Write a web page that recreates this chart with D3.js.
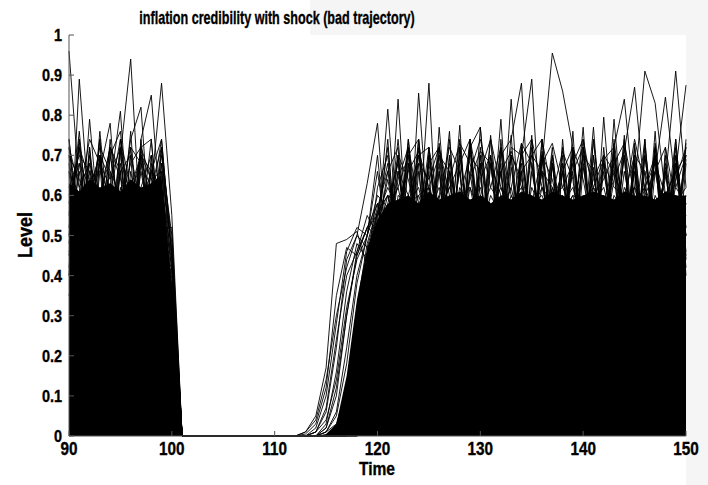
<!DOCTYPE html>
<html>
<head>
<meta charset="utf-8">
<script src="https://cdn.jsdelivr.net/npm/d3@7"></script>
<style>
  html, body { margin: 0; padding: 0; background: #ffffff; }
  svg { display: block; }
  text { font-family: "Liberation Sans", Arial, sans-serif; font-weight: bold; fill: #000; stroke: #000; stroke-width: 0.35; }
</style>
</head>
<body>
<svg id="chart" width="708" height="485"></svg>
<script>
// Simulated credibility paths, one value per period from t = 90 to t = 150.
const times = d3.range(90, 151);

// Upper edge of the region where the paths are packed solid (lower edge is 0).
const denseTop = [
  0.63, 0.61, 0.64, 0.62, 0.63, 0.61, 0.64, 0.62, 0.63, 0.65, 0.36,
  0, 0, 0, 0, 0, 0, 0, 0, 0, 0, 0,
  0, 0, 0, 0.005, 0.03, 0.15, 0.34, 0.47, 0.54, 0.58,
  0.59, 0.60, 0.58, 0.61, 0.59, 0.60, 0.61, 0.59, 0.60, 0.58,
  0.60, 0.59, 0.61, 0.60, 0.59, 0.61, 0.60, 0.59, 0.60, 0.61,
  0.60, 0.59, 0.61, 0.60, 0.60, 0.59, 0.61, 0.60, 0.60
];

// Individual paths: t=90..100 | collapse t=101..111 | recovery t=112..150
const path01 = [0.96,0.62,0.35,0.70,0.42,0.66,0.30,0.72,0.45,0.68,0.30, 0,0,0,0,0,0,0,0,0,0,0,
  0,0.01,0.05,0.17,0.48,0.49,0.51,0.42,0.62,0.70, 0.40,0.68,0.35,0.72,0.48,0.66,0.30,0.74,0.45,0.70,
  0.38,0.67,0.50,0.75,0.32,0.68,0.46,0.71,0.36,0.66, 0.48,0.73,0.34,0.69,0.44,0.76,0.40,0.68,0.50];
const path02 = [0.40,0.89,0.55,0.68,0.36,0.74,0.48,0.62,0.70,0.38,0.42, 0,0,0,0,0,0,0,0,0,0,0,
  0,0,0.01,0.06,0.22,0.44,0.50,0.63,0.78,0.45, 0.70,0.36,0.66,0.44,0.73,0.38,0.70,0.50,0.68,0.33,
  0.72,0.46,0.66,0.38,0.74,0.48,0.70,0.35,0.67,0.52, 0.70,0.40,0.75,0.46,0.66,0.34,0.72,0.48,0.69];
const path03 = [0.70,0.45,0.79,0.50,0.72,0.38,0.66,0.52,0.74,0.44,0.38, 0,0,0,0,0,0,0,0,0,0,0,
  0,0,0,0.02,0.10,0.30,0.46,0.55,0.50,0.815, 0.48,0.72,0.40,0.70,0.52,0.76,0.36,0.66,0.46,0.74,
  0.42,0.70,0.34,0.68,0.50,0.72,0.44,0.76,0.38,0.70, 0.50,0.68,0.36,0.73,0.46,0.70,0.40,0.74,0.45];
const path04 = [0.50,0.74,0.40,0.66,0.78,0.46,0.70,0.35,0.68,0.50,0.33, 0,0,0,0,0,0,0,0,0,0,0,
  0,0,0.01,0.04,0.14,0.32,0.44,0.50,0.58,0.45, 0.84,0.44,0.68,0.36,0.72,0.50,0.66,0.40,0.77,0.46,
  0.66,0.38,0.72,0.48,0.70,0.34,0.68,0.52,0.74,0.40, 0.69,0.44,0.72,0.36,0.70,0.50,0.67,0.42,0.73];
const path05 = [0.66,0.38,0.72,0.50,0.62,0.81,0.44,0.70,0.40,0.72,0.36, 0,0,0,0,0,0,0,0,0,0,0,
  0,0,0,0.01,0.05,0.18,0.38,0.50,0.66,0.48, 0.70,0.42,0.855,0.50,0.68,0.34,0.72,0.46,0.66,0.38,
  0.74,0.48,0.66,0.40,0.71,0.52,0.68,0.36,0.72,0.45, 0.66,0.50,0.70,0.38,0.74,0.44,0.68,0.52,0.70];
const path06 = [0.45,0.68,0.52,0.74,0.40,0.70,0.94,0.50,0.66,0.36,0.40, 0,0,0,0,0,0,0,0,0,0,0,
  0,0,0,0,0.02,0.10,0.28,0.45,0.56,0.68, 0.42,0.74,0.50,0.88,0.40,0.70,0.46,0.72,0.36,0.68,
  0.48,0.75,0.40,0.66,0.52,0.70,0.34,0.72,0.46,0.67, 0.40,0.71,0.48,0.66,0.36,0.73,0.50,0.68,0.42];
const path07 = [0.72,0.50,0.66,0.42,0.70,0.56,0.74,0.82,0.46,0.66,0.35, 0,0,0,0,0,0,0,0,0,0,0,
  0,0,0,0.01,0.06,0.22,0.40,0.50,0.70,0.44, 0.66,0.50,0.74,0.40,0.77,0.46,0.775,0.38,0.70,0.48,
  0.68,0.36,0.73,0.50,0.66,0.42,0.72,0.48,0.70,0.38, 0.72,0.46,0.66,0.52,0.74,0.40,0.70,0.36,0.68];
const path08 = [0.55,0.72,0.36,0.70,0.48,0.66,0.40,0.74,0.85,0.52,0.52, 0,0,0,0,0,0,0,0,0,0,0,
  0,0,0,0,0.01,0.08,0.26,0.44,0.54,0.72, 0.46,0.70,0.38,0.68,0.50,0.74,0.44,0.72,0.77,0.48,
  0.79,0.42,0.70,0.50,0.66,0.38,0.74,0.46,0.68,0.52, 0.36,0.72,0.48,0.70,0.40,0.66,0.52,0.74,0.44];
const path09 = [0.68,0.44,0.70,0.52,0.66,0.36,0.72,0.48,0.62,0.88,0.55, 0,0,0,0,0,0,0,0,0,0,0,
  0,0,0,0.01,0.03,0.12,0.32,0.48,0.57,0.66, 0.50,0.72,0.44,0.66,0.38,0.70,0.52,0.74,0.42,0.68,
  0.48,0.84,0.46,0.72,0.36,0.68,0.50,0.70,0.44,0.74, 0.52,0.66,0.40,0.72,0.48,0.70,0.38,0.66,0.50];
const path10 = [0.48,0.66,0.46,0.76,0.50,0.72,0.40,0.68,0.52,0.70,0.50, 0,0,0,0,0,0,0,0,0,0,0,
  0,0,0,0,0.02,0.08,0.20,0.42,0.56,0.50, 0.74,0.46,0.70,0.52,0.66,0.40,0.72,0.48,0.68,0.36,
  0.70,0.74,0.88,0.44,0.70,0.50,0.66,0.40,0.72,0.46, 0.68,0.52,0.74,0.42,0.70,0.48,0.66,0.50,0.72];
const path11 = [0.74,0.52,0.68,0.44,0.74,0.50,0.76,0.40,0.70,0.48,0.45, 0,0,0,0,0,0,0,0,0,0,0,
  0,0,0,0,0.01,0.05,0.16,0.36,0.50,0.74, 0.40,0.68,0.52,0.72,0.46,0.66,0.38,0.74,0.50,0.70,
  0.44,0.72,0.70,0.89,0.46,0.70,0.52,0.66,0.40,0.74, 0.48,0.70,0.44,0.68,0.52,0.72,0.40,0.70,0.46];
const path12 = [0.52,0.76,0.48,0.74,0.36,0.68,0.50,0.72,0.74,0.46,0.42, 0,0,0,0,0,0,0,0,0,0,0,
  0,0,0,0,0,0.03,0.12,0.30,0.50,0.66, 0.72,0.40,0.74,0.50,0.70,0.44,0.68,0.36,0.72,0.52,
  0.66,0.46,0.72,0.50,0.68,0.955,0.86,0.72,0.46,0.70, 0.40,0.74,0.52,0.66,0.44,0.70,0.48,0.72,0.40];
const path13 = [0.74,0.46,0.72,0.40,0.70,0.76,0.48,0.66,0.52,0.72,0.48, 0,0,0,0,0,0,0,0,0,0,0,
  0,0,0,0,0,0.01,0.07,0.24,0.46,0.58, 0.68,0.48,0.72,0.42,0.66,0.50,0.74,0.44,0.70,0.52,
  0.72,0.40,0.68,0.48,0.74,0.44,0.66,0.50,0.77,0.42, 0.795,0.48,0.70,0.40,0.72,0.52,0.66,0.46,0.74];
const path14 = [0.42,0.74,0.52,0.70,0.46,0.72,0.38,0.74,0.48,0.68,0.46, 0,0,0,0,0,0,0,0,0,0,0,
  0,0,0,0,0,0.02,0.10,0.30,0.52,0.64, 0.50,0.74,0.44,0.70,0.52,0.68,0.40,0.72,0.46,0.75,
  0.50,0.70,0.46,0.74,0.40,0.68,0.52,0.72,0.48,0.77, 0.44,0.79,0.50,0.68,0.42,0.72,0.48,0.70,0.52];
const path15 = [0.70,0.64,0.58,0.72,0.66,0.60,0.72,0.68,0.62,0.72,0.40, 0,0,0,0,0,0,0,0,0,0,0,
  0,0,0,0,0,0,0.04,0.18,0.40,0.56, 0.62,0.70,0.74,0.50,0.60,0.72,0.66,0.42,0.64,0.70,
  0.56,0.62,0.73,0.68,0.48,0.60,0.71,0.64,0.44,0.62, 0.69,0.72,0.84,0.58,0.62,0.70,0.52,0.64,0.72];
const path16 = [0.62,0.70,0.66,0.58,0.72,0.64,0.60,0.70,0.66,0.62,0.44, 0,0,0,0,0,0,0,0,0,0,0,
  0,0,0,0,0,0,0.02,0.12,0.34,0.55, 0.70,0.64,0.52,0.68,0.72,0.60,0.46,0.66,0.74,0.62,
  0.58,0.70,0.64,0.50,0.68,0.73,0.62,0.56,0.70,0.66, 0.48,0.64,0.71,0.87,0.60,0.66,0.72,0.58,0.62];
const path17 = [0.66,0.60,0.74,0.68,0.62,0.58,0.68,0.72,0.64,0.60,0.42, 0,0,0,0,0,0,0,0,0,0,0,
  0,0,0,0,0,0,0.01,0.06,0.26,0.52, 0.58,0.66,0.71,0.62,0.50,0.64,0.73,0.68,0.56,0.62,
  0.72,0.60,0.54,0.70,0.66,0.62,0.48,0.68,0.74,0.60, 0.64,0.70,0.58,0.62,0.91,0.83,0.60,0.66,0.70];
const path18 = [0.58,0.72,0.64,0.66,0.60,0.74,0.62,0.70,0.58,0.74,0.44, 0,0,0,0,0,0,0,0,0,0,0,
  0,0,0,0,0,0,0,0.04,0.20,0.50, 0.66,0.60,0.70,0.72,0.56,0.62,0.68,0.74,0.60,0.52,
  0.66,0.71,0.62,0.58,0.70,0.64,0.52,0.66,0.72,0.62, 0.58,0.68,0.73,0.60,0.54,0.66,0.845,0.62,0.70];
const path19 = [0.72,0.62,0.68,0.60,0.72,0.66,0.70,0.58,0.66,0.74,0.45, 0,0,0,0,0,0,0,0,0,0,0,
  0,0,0,0,0,0,0,0.02,0.14,0.45, 0.64,0.72,0.58,0.62,0.70,0.66,0.54,0.64,0.71,0.68,
  0.60,0.56,0.70,0.74,0.62,0.58,0.66,0.72,0.64,0.50, 0.68,0.62,0.60,0.70,0.66,0.56,0.64,0.91,0.62];
const path20 = [0.60,0.68,0.62,0.70,0.64,0.72,0.58,0.70,0.64,0.66,0.46, 0,0,0,0,0,0,0,0,0,0,0,
  0,0,0,0,0,0,0,0.01,0.08,0.36, 0.60,0.58,0.68,0.64,0.72,0.56,0.60,0.70,0.66,0.74,
  0.62,0.54,0.66,0.70,0.74,0.60,0.62,0.68,0.56,0.64, 0.70,0.66,0.58,0.74,0.62,0.68,0.60,0.66,0.875];
const path21 = [0.40,0.52,0.45,0.60,0.48,0.55,0.50,0.58,0.46,0.52,0.30, 0,0,0,0,0,0,0,0,0,0,0,
  0,0.005,0.03,0.12,0.35,0.47,0.45,0.52,0.58,0.50, 0.55,0.60,0.48,0.56,0.62,0.50,0.58,0.45,0.60,0.55,
  0.50,0.58,0.62,0.48,0.55,0.60,0.52,0.58,0.46,0.60, 0.55,0.50,0.62,0.56,0.48,0.60,0.54,0.58,0.50];
const path22 = [0.35,0.48,0.55,0.42,0.58,0.50,0.46,0.60,0.52,0.44,0.28, 0,0,0,0,0,0,0,0,0,0,0,
  0,0.01,0.04,0.14,0.30,0.42,0.50,0.47,0.56,0.60, 0.52,0.58,0.62,0.50,0.56,0.60,0.48,0.62,0.55,0.50,
  0.60,0.54,0.48,0.62,0.56,0.50,0.58,0.62,0.52,0.56, 0.60,0.48,0.56,0.62,0.52,0.58,0.50,0.60,0.55];
const path23 = [0.50,0.42,0.58,0.52,0.46,0.60,0.55,0.50,0.58,0.45,0.32, 0,0,0,0,0,0,0,0,0,0,0,
  0,0,0.02,0.10,0.28,0.46,0.52,0.50,0.60,0.57, 0.62,0.50,0.58,0.55,0.60,0.48,0.62,0.56,0.50,0.60,
  0.55,0.62,0.50,0.58,0.60,0.52,0.56,0.60,0.50,0.58, 0.62,0.52,0.58,0.50,0.60,0.56,0.52,0.62,0.58];
const path24 = [0.46,0.56,0.50,0.58,0.44,0.62,0.48,0.55,0.60,0.50,0.34, 0,0,0,0,0,0,0,0,0,0,0,
  0,0,0.01,0.07,0.24,0.40,0.46,0.52,0.55,0.62, 0.56,0.60,0.52,0.62,0.55,0.60,0.50,0.58,0.62,0.52,
  0.58,0.50,0.60,0.56,0.62,0.52,0.58,0.50,0.60,0.55, 0.50,0.60,0.56,0.52,0.62,0.55,0.60,0.50,0.58];
const path25 = [0.56,0.45,0.60,0.50,0.55,0.48,0.62,0.52,0.50,0.60,0.37, 0,0,0,0,0,0,0,0,0,0,0,
  0,0,0,0.03,0.16,0.36,0.48,0.44,0.55,0.60, 0.50,0.58,0.60,0.52,0.56,0.62,0.55,0.50,0.60,0.58,
  0.52,0.60,0.55,0.50,0.62,0.56,0.60,0.52,0.58,0.62, 0.55,0.50,0.60,0.58,0.62,0.50,0.56,0.60,0.52];
const path26 = [0.52,0.58,0.46,0.55,0.62,0.50,0.56,0.45,0.60,0.55,0.35, 0,0,0,0,0,0,0,0,0,0,0,
  0,0,0,0.02,0.12,0.30,0.45,0.52,0.50,0.60, 0.58,0.52,0.60,0.62,0.50,0.56,0.60,0.62,0.50,0.56,
  0.62,0.55,0.58,0.60,0.50,0.62,0.55,0.60,0.58,0.50, 0.60,0.56,0.50,0.62,0.58,0.55,0.60,0.50,0.60];

const paths = [path01, path02, path03, path04, path05, path06, path07, path08, path09,
  path10, path11, path12, path13, path14, path15, path16, path17, path18, path19, path20,
  path21, path22, path23, path24, path25, path26];

const xTicks = [90, 100, 110, 120, 130, 140, 150];
const yTicks = [0, 0.1, 0.2, 0.3, 0.4, 0.5, 0.6, 0.7, 0.8, 0.9, 1];
const yTickLabels = ["0", "0.1", "0.2", "0.3", "0.4", "0.5", "0.6", "0.7", "0.8", "0.9", "1"];

const svg = d3.select("#chart");
const W = 708, H = 485;
const plot = { left: 69, right: 686, top: 35, bottom: 436 };

// light grey figure margins
svg.append("rect").attr("x", 0).attr("y", 0).attr("width", W).attr("height", H).attr("fill", "#ffffff");
svg.append("rect").attr("x", 310).attr("y", 0).attr("width", W - 310).attr("height", plot.top).attr("fill", "#f5f5f5");
svg.append("rect").attr("x", plot.right).attr("y", 0).attr("width", W - plot.right).attr("height", H).attr("fill", "#f5f5f5");

const x = d3.scaleLinear().domain([90, 150]).range([plot.left, plot.right]);
const y = d3.scaleLinear().domain([0, 1]).range([plot.bottom, plot.top]);

// solid core of the bundle
const area = d3.area()
  .x((d, i) => x(times[i]))
  .y0(() => y(0))
  .y1(d => y(d));
svg.append("path").datum(denseTop).attr("d", area).attr("fill", "#000");

// individual paths
const line = d3.line().x((d, i) => x(times[i])).y(d => y(d));
svg.append("g").selectAll("path").data(paths).join("path")
  .attr("d", line)
  .attr("fill", "none")
  .attr("stroke", "#000")
  .attr("stroke-width", 0.9)
  .attr("stroke-linejoin", "miter");

// condensed bold labels
function label(g, px, py, str, size, anchor, sx, rot) {
  const t = `translate(${px},${py})` + (rot ? ` rotate(${rot})` : "") + ` scale(${sx},1)`;
  return g.append("text").attr("transform", t).attr("text-anchor", anchor)
    .attr("font-size", size).text(str);
}

// axes
const axisColor = "#555";
svg.append("line").attr("x1", plot.left).attr("x2", plot.left)
  .attr("y1", y(0)).attr("y2", y(1)).attr("stroke", axisColor).attr("stroke-width", 1);
svg.append("line").attr("x1", plot.left).attr("x2", plot.right)
  .attr("y1", y(0)).attr("y2", y(0)).attr("stroke", axisColor).attr("stroke-width", 1);

const yg = svg.append("g");
yTicks.forEach((v, i) => {
  yg.append("line").attr("x1", plot.left).attr("x2", plot.left + 5)
    .attr("y1", y(v)).attr("y2", y(v)).attr("stroke", axisColor);
  label(yg, plot.left - 7, y(v) + 6, yTickLabels[i], 17, "end", 0.85);
});
const xg = svg.append("g");
xTicks.forEach(v => {
  xg.append("line").attr("x1", x(v)).attr("x2", x(v))
    .attr("y1", y(0)).attr("y2", y(0) - 5).attr("stroke", axisColor);
  label(xg, x(v), 455, String(v), 18, "middle", 0.85);
});

label(svg, 277, 24, "inflation credibility with shock (bad trajectory)", 18, "middle", 0.7);
label(svg, 377, 475, "Time", 19, "middle", 0.82);
label(svg, 32, 235, "Level", 20, "middle", 0.9, -90);
</script>
</body>
</html>
